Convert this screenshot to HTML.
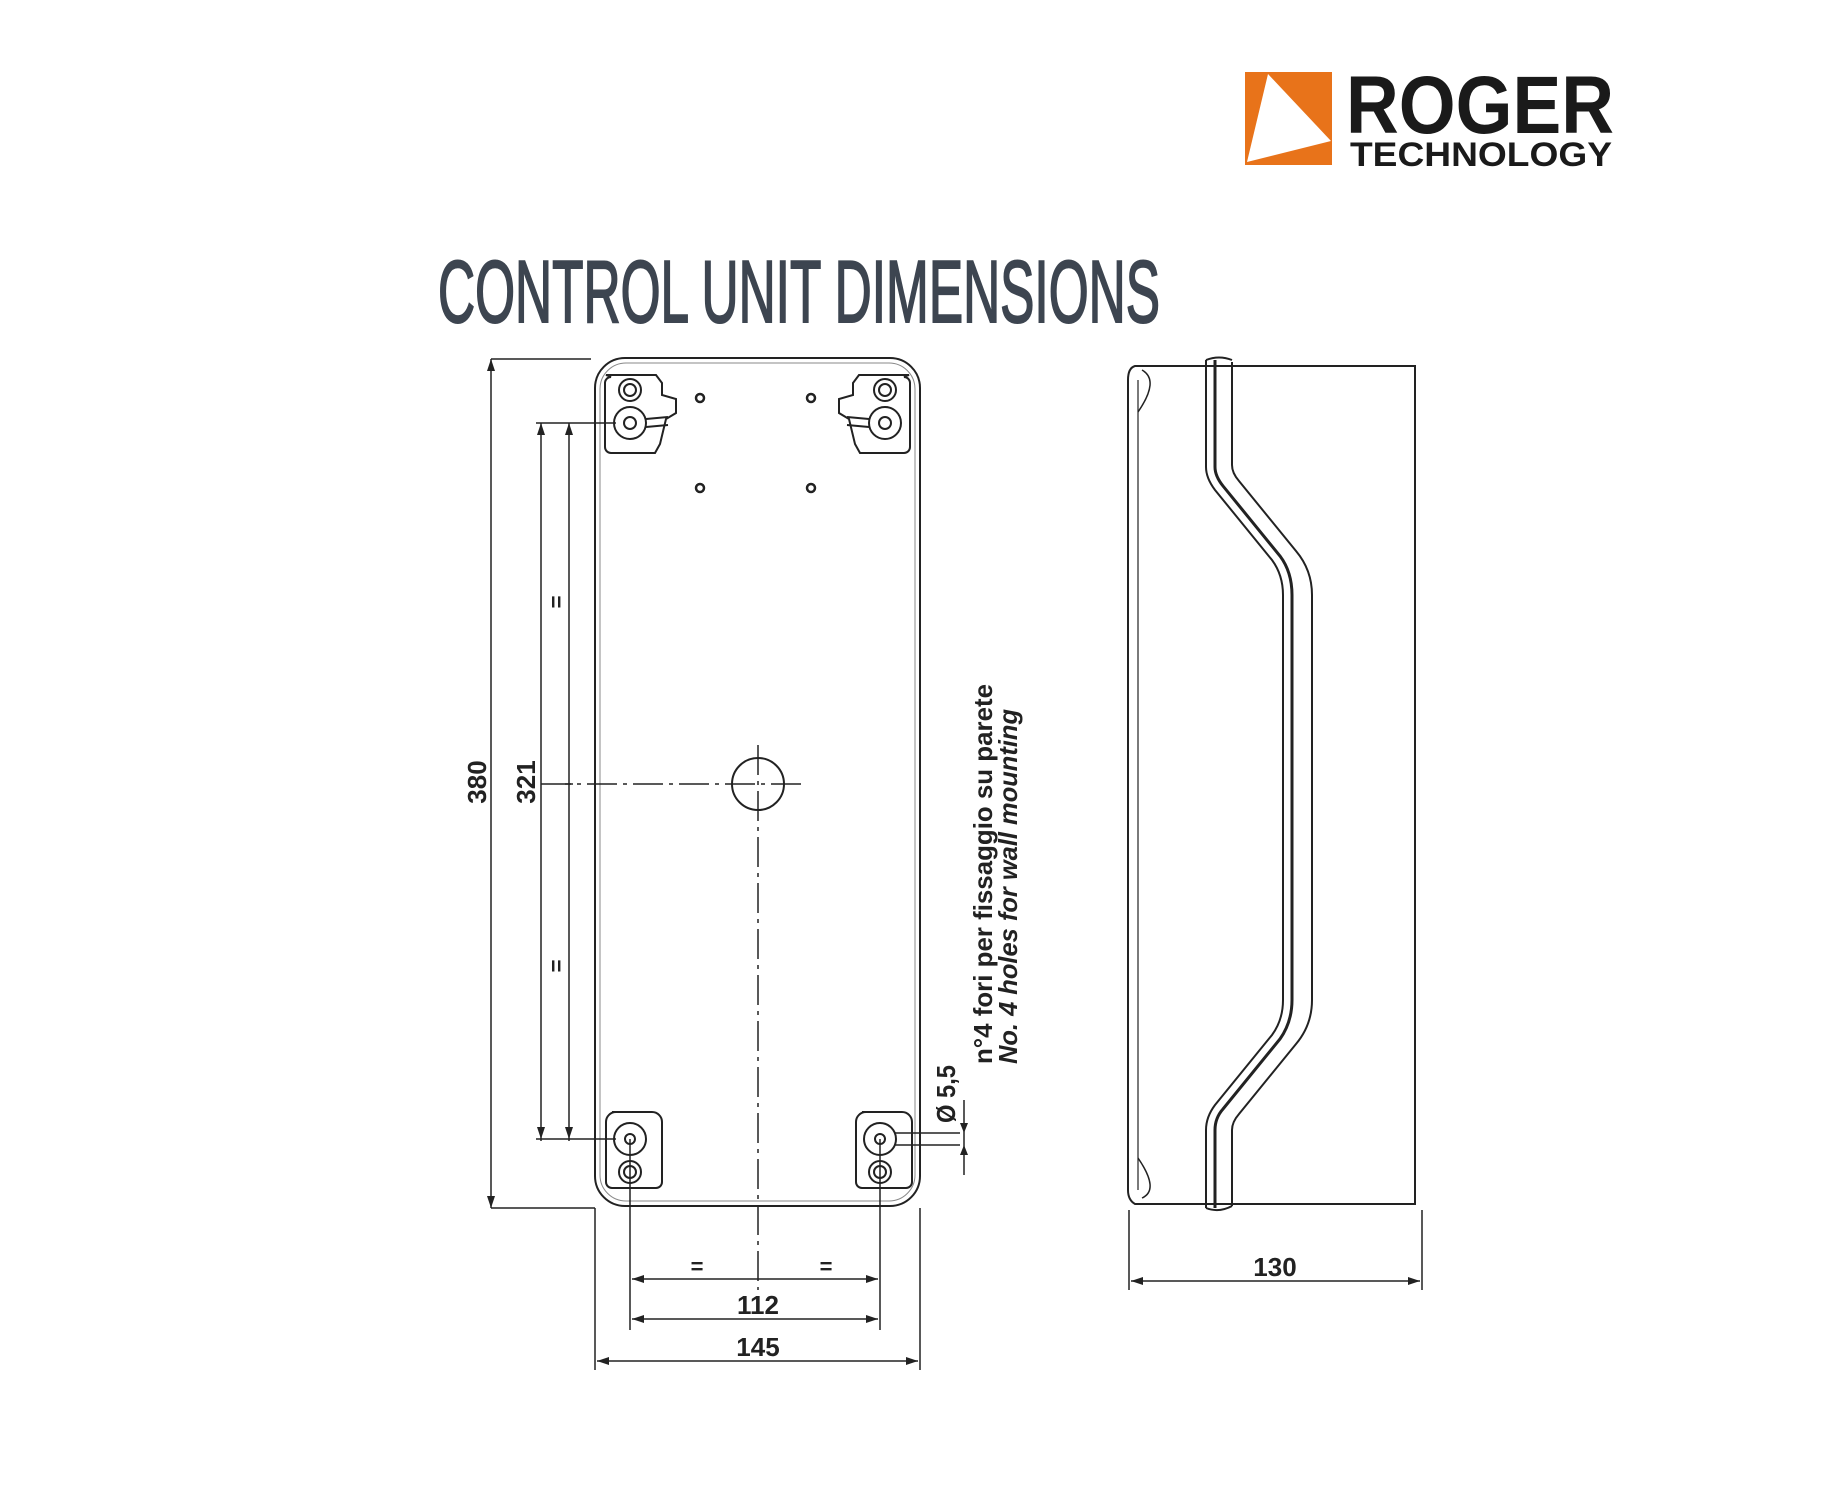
<!DOCTYPE html>
<html><head><meta charset="utf-8"><style>
html,body{margin:0;padding:0;background:#fff;}
svg{display:block;}
text{font-family:"Liberation Sans",sans-serif;}
</style></head><body>
<svg width="1834" height="1500" viewBox="0 0 1834 1500" xmlns="http://www.w3.org/2000/svg">
<!-- Logo -->
<rect x="1245" y="72" width="87" height="93" fill="#e8731a"/>
<polygon points="1268,74 1331,141 1247,162" fill="#fff"/>
<text x="1346" y="133" font-size="82" font-weight="bold" fill="#1a1a1a" textLength="268" lengthAdjust="spacingAndGlyphs">ROGER</text>
<text x="1350" y="166" font-size="34" font-weight="bold" fill="#1a1a1a" textLength="262" lengthAdjust="spacingAndGlyphs">TECHNOLOGY</text>
<!-- Title -->
<text x="438" y="322" font-size="88" fill="#3d4550" stroke="#3d4550" stroke-width="2" textLength="722" lengthAdjust="spacingAndGlyphs">CONTROL UNIT DIMENSIONS</text>

<g fill="none" stroke="#222" stroke-width="2">
<!-- front box -->
<rect x="595" y="358" width="325" height="848" rx="30"/>
<rect x="600" y="363" width="315" height="838" rx="26" stroke-width="1" stroke="#888"/>
<!-- top brackets -->
<path d="M606,375 h50 l6,8 v12 l14,4 v14 l-10,6 l-6,25 l-5,9 h-44 a6,6 0 0 1 -6,-6 v-64 a6,6 0 0 1 6,-6z"/>
<circle cx="630" cy="390" r="11"/><circle cx="630" cy="390" r="6"/>
<circle cx="630" cy="423" r="16"/><circle cx="630" cy="423" r="6"/>
<path d="M646,419 l22,-2 M646,427 l22,-2"/>
<path d="M909,375 h-50 l-6,8 v12 l-14,4 v14 l10,6 l6,25 l5,9 h44 a6,6 0 0 0 6,-6 v-64 a6,6 0 0 0 -6,-6z"/>
<circle cx="885" cy="390" r="11"/><circle cx="885" cy="390" r="6"/>
<circle cx="885" cy="423" r="16"/><circle cx="885" cy="423" r="6"/>
<path d="M869,419 l-22,-2 M869,427 l-22,-2"/>
<circle cx="700" cy="398" r="4" stroke-width="2.5"/><circle cx="811" cy="398" r="4" stroke-width="2.5"/>
<circle cx="700" cy="488" r="4" stroke-width="2.5"/><circle cx="811" cy="488" r="4" stroke-width="2.5"/>
<!-- bottom brackets -->
<path d="M612,1112 h40 a10,10 0 0 1 10,10 v60 a6,6 0 0 1 -6,6 h-44 a6,6 0 0 1 -6,-6 v-60 a10,10 0 0 1 10,-10z"/>
<circle cx="630" cy="1139" r="16"/><circle cx="630" cy="1139" r="5"/>
<circle cx="630" cy="1172" r="11"/><circle cx="630" cy="1172" r="6"/>
<path d="M862,1112 h40 a10,10 0 0 1 10,10 v60 a6,6 0 0 1 -6,6 h-44 a6,6 0 0 1 -6,-6 v-60 a10,10 0 0 1 10,-10z"/>
<circle cx="880" cy="1139" r="16"/><circle cx="880" cy="1139" r="5"/>
<circle cx="880" cy="1172" r="11"/><circle cx="880" cy="1172" r="6"/>
<!-- center hole -->
<circle cx="758" cy="784" r="26"/>
<path d="M541,784 H805" stroke-dasharray="30,6,4,6" stroke-width="1.5"/>
<path d="M758,745 V1290" stroke-dasharray="30,6,4,6" stroke-width="1.5"/>
<!-- 380 dim -->
<path d="M491,359 V1208 M491,359 h100 M491,1208 h104" stroke-width="1.5"/>
<!-- 321 dims -->
<path d="M541,423 V1141 M569,423 V1141 M536,423 h80 M536,1139 h80" stroke-width="1.5"/>
<path d="M565,784 h8" stroke-width="1.5"/>
<!-- bottom dims -->
<path d="M595,1208 V1370 M920,1208 V1370 M630,1139 V1330 M880,1139 V1330" stroke-width="1.5"/>
<path d="M632,1279 H878 M632,1319 H878 M597,1361 H918" stroke-width="1.5"/>
<!-- Ø5,5 leader -->
<path d="M895,1133 H960 M895,1145 H960 M964,1100 V1175" stroke-width="1.5"/>
<!-- side view -->
<path d="M1135,366 Q1128,368 1128,380 V1190 Q1128,1200 1135,1204 H1415 V366 Z"/>
<path d="M1138,380 V1190" stroke-width="1.2"/>
<path d="M1142,370 Q1160,380 1138,412" stroke-width="1.5"/>
<path d="M1142,1198 Q1160,1190 1138,1158" stroke-width="1.5"/>
<path d="M1206,360 V467 Q1206,478 1215,490 L1272,560 Q1283,575 1283,595 V1000 Q1283,1020 1272,1035 L1215,1105 Q1206,1117 1206,1130 V1208"/>
<path d="M1215,360 V467 Q1215,476 1223,486 L1280,556 Q1292,572 1292,595 V1000 Q1292,1022 1280,1039 L1223,1109 Q1215,1118 1215,1130 V1208" stroke-width="3"/>
<path d="M1232,362 V465 Q1232,473 1239,481 L1296,551 Q1312,570 1312,595 V1000 Q1312,1025 1296,1044 L1239,1114 Q1232,1122 1232,1130 V1206"/>
<path d="M1206,360 Q1219,355 1232,360 M1206,1208 Q1219,1213 1232,1206"/>
<!-- 130 dim -->
<path d="M1129,1210 V1290 M1422,1210 V1290 M1131,1281 H1420" stroke-width="1.5"/>
</g>
<!-- arrowheads -->
<g fill="#222">
<polygon points="491,359 487,371 495,371"/><polygon points="491,1208 487,1196 495,1196"/>
<polygon points="541,423 537,435 545,435"/><polygon points="541,1139 537,1127 545,1127"/>
<polygon points="569,423 565,435 573,435"/><polygon points="569,1139 565,1127 573,1127"/>
<polygon points="632,1279 644,1275 644,1283"/><polygon points="878,1279 866,1275 866,1283"/>
<polygon points="632,1319 644,1315 644,1323"/><polygon points="878,1319 866,1315 866,1323"/>
<polygon points="597,1361 609,1357 609,1365"/><polygon points="918,1361 906,1357 906,1365"/>
<polygon points="1131,1281 1143,1277 1143,1285"/><polygon points="1420,1281 1408,1277 1408,1285"/>
<polygon points="964,1133 960,1123 968,1123"/><polygon points="964,1145 960,1155 968,1155"/>
</g>
<!-- labels -->
<g font-weight="bold" fill="#222" font-size="26">
<text transform="translate(486,782) rotate(-90)" text-anchor="middle">380</text>
<text transform="translate(535,782) rotate(-90)" text-anchor="middle">321</text>
<text transform="translate(564,602) rotate(-90)" text-anchor="middle" font-size="22">=</text>
<text transform="translate(564,966) rotate(-90)" text-anchor="middle" font-size="22">=</text>
<text x="697" y="1274" text-anchor="middle" font-size="22">=</text>
<text x="826" y="1274" text-anchor="middle" font-size="22">=</text>
<text x="758" y="1314" text-anchor="middle">112</text>
<text x="758" y="1356" text-anchor="middle">145</text>
<text x="1275" y="1276" text-anchor="middle">130</text>
<text transform="translate(955,1123) rotate(-90)" textLength="58" lengthAdjust="spacingAndGlyphs">Ø 5,5</text>
<text transform="translate(992,1064) rotate(-90)" textLength="380" lengthAdjust="spacingAndGlyphs">n°4 fori per fissaggio su parete</text>
<text transform="translate(1017,1064) rotate(-90)" font-style="italic" textLength="355" lengthAdjust="spacingAndGlyphs">No. 4 holes for wall mounting</text>
</g>
</svg>
</body></html>
